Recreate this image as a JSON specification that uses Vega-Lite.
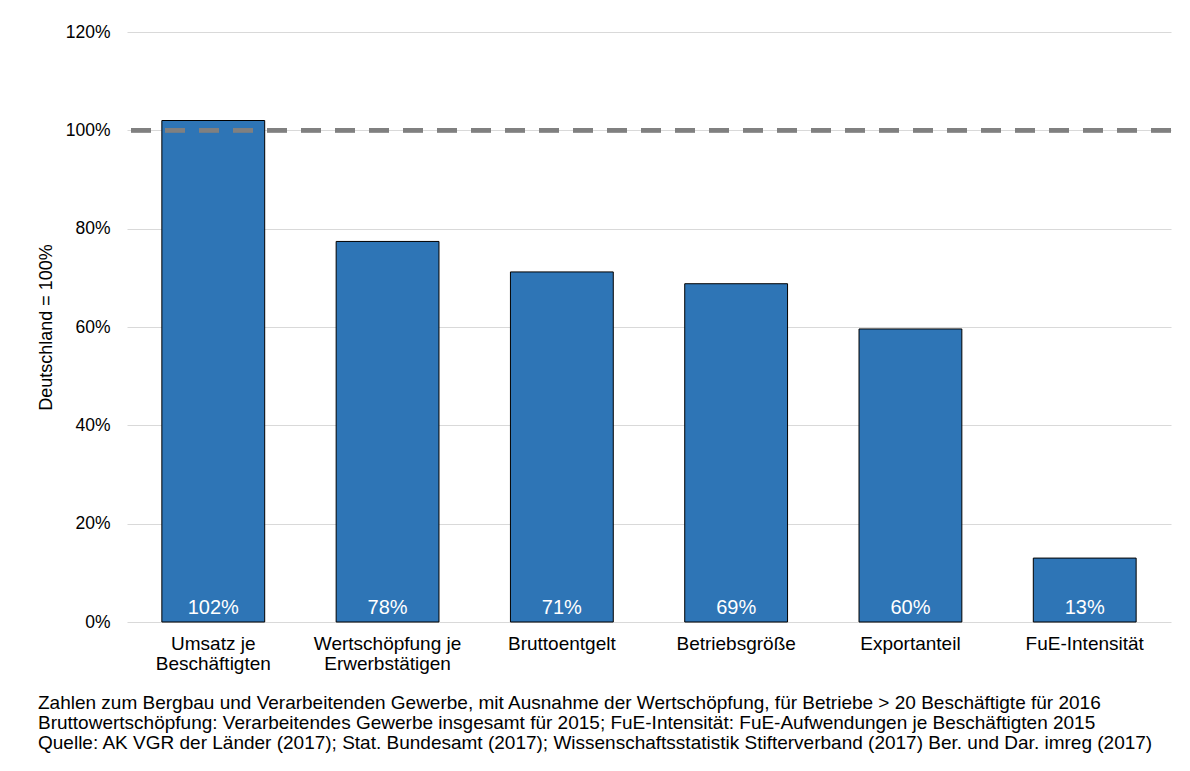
{
  "$schema": "https://vega.github.io/schema/vega-lite/v6.json",
  "autosize": "none",
  "width": 1044,
  "height": 590,
  "padding": {"left": 127, "top": 32, "right": 19, "bottom": 149},
  "background": "white",
  "config": {
    "font": "Liberation Sans",
    "view": {"stroke": null}
  },
  "title": {
    "text": [
      "Zahlen zum Bergbau und Verarbeitenden Gewerbe, mit Ausnahme der Wertschöpfung, für Betriebe > 20 Beschäftigte für 2016",
      "Bruttowertschöpfung: Verarbeitendes Gewerbe insgesamt für 2015; FuE-Intensität: FuE-Aufwendungen je Beschäftigten 2015",
      "Quelle: AK VGR der Länder (2017); Stat. Bundesamt (2017); Wissenschaftsstatistik Stifterverband (2017) Ber. und Dar. imreg (2017)"
    ],
    "orient": "bottom",
    "anchor": "start",
    "frame": "group",
    "dx": -89,
    "offset": 21,
    "fontSize": 19,
    "fontWeight": "normal",
    "lineHeight": 20,
    "color": "black",
    "font": "Liberation Sans"
  },
  "data": {
    "values": [
      {"kategorie": "Umsatz je Beschäftigten", "wert": 102.0, "label": "102%"},
      {"kategorie": "Wertschöpfung je Erwerbstätigen", "wert": 77.4, "label": "78%"},
      {"kategorie": "Bruttoentgelt", "wert": 71.2, "label": "71%"},
      {"kategorie": "Betriebsgröße", "wert": 68.8, "label": "69%"},
      {"kategorie": "Exportanteil", "wert": 59.6, "label": "60%"},
      {"kategorie": "FuE-Intensität", "wert": 13.0, "label": "13%"}
    ]
  },
  "layer": [
    {
      "mark": {"type": "bar", "color": "#2E75B6", "stroke": "black", "strokeWidth": 1},
      "encoding": {
        "x": {
          "field": "kategorie",
          "type": "nominal",
          "sort": null,
          "scale": {"paddingInner": 0.41, "paddingOuter": 0.2},
          "axis": {
            "title": null,
            "labelAngle": 0,
            "labelFontSize": 19,
            "labelColor": "black",
            "labelPadding": 12,
            "labelLineHeight": 20,
            "labelBaseline": "top",
            "ticks": false,
            "domain": false,
            "labelExpr": "datum.value == 'Umsatz je Beschäftigten' ? ['Umsatz je', 'Beschäftigten'] : datum.value == 'Wertschöpfung je Erwerbstätigen' ? ['Wertschöpfung je', 'Erwerbstätigen'] : datum.value"
          }
        },
        "y": {
          "field": "wert",
          "type": "quantitative",
          "scale": {"domain": [0, 120]},
          "axis": {
            "title": "Deutschland = 100%",
            "titleFontSize": 18,
            "titleFontWeight": "normal",
            "titleColor": "black",
            "titlePadding": 10,
            "values": [0, 20, 40, 60, 80, 100, 120],
            "labelExpr": "datum.value + '%'",
            "labelFontSize": 17.5,
            "labelColor": "black",
            "labelPadding": 17,
            "ticks": false,
            "domain": false,
            "gridColor": "#d9d9d9",
            "gridWidth": 1
          }
        }
      }
    },
    {
      "mark": {"type": "text", "color": "white", "fontSize": 20, "baseline": "alphabetic", "dy": -8},
      "encoding": {
        "x": {"field": "kategorie", "type": "nominal", "sort": null},
        "y": {"datum": 0, "type": "quantitative"},
        "text": {"field": "label"}
      }
    },
    {
      "mark": {"type": "rule", "color": "#808080", "strokeWidth": 4, "strokeDash": [20, 14]},
      "encoding": {
        "y": {"datum": 100, "type": "quantitative"}
      }
    }
  ]
}
